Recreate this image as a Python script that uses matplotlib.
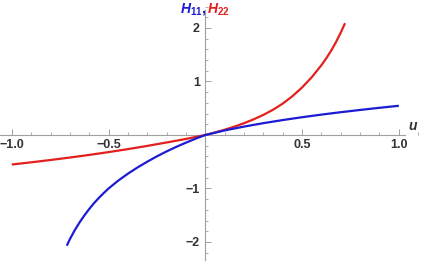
import numpy as np
import matplotlib
matplotlib.use("Agg")
import matplotlib.pyplot as plt
from matplotlib.ticker import MultipleLocator, FixedLocator

# H22 (red)
u_red = [-1.0, -0.9, -0.8, -0.7, -0.6, -0.5, -0.4, -0.3, -0.2, -0.1, 0.0,
         0.05, 0.1, 0.15, 0.2, 0.25, 0.3, 0.35, 0.4, 0.45, 0.5, 0.55,
         0.6, 0.625, 0.65, 0.675, 0.7, 0.722]
h22 = [-0.552, -0.511, -0.4675, -0.4215, -0.3725, -0.32, -0.264, -0.204, -0.14, -0.074, 0.0,
       0.047, 0.099, 0.156, 0.22, 0.293, 0.376, 0.472, 0.587, 0.725, 0.888, 1.08,
       1.305, 1.433, 1.575, 1.735, 1.915, 2.09]

# H11 (blue)
u_blue = [-0.716, -0.7, -0.675, -0.65, -0.625, -0.6, -0.575, -0.55, -0.525, -0.5,
          -0.45, -0.4, -0.35, -0.3, -0.25, -0.2, -0.15, -0.1, -0.05, 0.0,
          0.1, 0.2, 0.3, 0.4, 0.5, 0.6, 0.7, 0.8, 0.9, 1.0]
h11 = [-2.07, -1.948, -1.781, -1.635, -1.503, -1.383, -1.274, -1.175, -1.085, -1.0,
       -0.853, -0.723, -0.606, -0.499, -0.399, -0.307, -0.222, -0.143, -0.069, 0.0,
       0.085, 0.157, 0.221, 0.279, 0.332, 0.381, 0.426, 0.468, 0.508, 0.546]

xticks = [-1.0, -0.5, 0.5, 1.0]
xtick_labels = ["\u22121.0", "\u22120.5", "0.5", "1.0"]
yticks = [-2, -1, 1, 2]
ytick_labels = ["\u22122", "\u22121", "1", "2"]

blue = "#1c1cd2"
red = "#e3201d"
axis_col = "#a0a0a0"
text_col = "#333333"

plt.rcParams["font.family"] = ["Liberation Sans", "DejaVu Sans"]
plt.rcParams["mathtext.fontset"] = "custom"
plt.rcParams["mathtext.it"] = "Liberation Sans:italic:bold"
plt.rcParams["mathtext.rm"] = "Liberation Sans:bold"

fig = plt.figure(figsize=(4.24, 2.62), dpi=100)
ax = fig.add_axes([0, 0, 1, 1])
ax.set_xlim(-1.061, 1.130)
ax.set_ylim(-2.374, 2.523)

ax.plot(u_red, h22, color=red, lw=1.6, solid_capstyle="butt", zorder=3)
ax.plot(u_blue, h11, color=blue, lw=1.6, solid_capstyle="butt", zorder=3)

# axes through the origin, Mathematica look
for side in ("top", "right"):
    ax.spines[side].set_visible(False)
ax.spines["bottom"].set_position(("data", 0))
ax.spines["left"].set_position(("data", 0))
ax.spines["bottom"].set_bounds(-1.061, 1.03)
ax.spines["left"].set_bounds(-2.34, 2.33)
for side in ("bottom", "left"):
    ax.spines[side].set_color(axis_col)
    ax.spines[side].set_linewidth(0.8)

ax.xaxis.set_major_locator(FixedLocator(xticks))
ax.xaxis.set_minor_locator(MultipleLocator(0.1))
ax.yaxis.set_major_locator(FixedLocator(yticks))
ax.yaxis.set_minor_locator(MultipleLocator(0.2))

ax.tick_params(axis="both", which="major", direction="in", length=4, width=0.7,
               color=axis_col, labelsize=9, labelcolor=text_col)
ax.tick_params(axis="both", which="minor", direction="in", length=2.2, width=0.6,
               color=axis_col)
ax.tick_params(axis="x", pad=3)
ax.tick_params(axis="y", pad=4)
ax.set_xticklabels(xtick_labels, fontweight="bold")
ax.set_yticklabels(ytick_labels, fontweight="bold")

# axis labels
ax.text(1.05, 0.04, "u", fontsize=10, fontstyle="italic", fontweight="bold",
        color=text_col, ha="left", va="bottom")
ax.annotate(r"$H_{11}$,", xy=(0, 1), xycoords=("data", "axes fraction"),
            xytext=(1, -1), textcoords="offset points",
            ha="right", va="top", color=blue, fontsize=10, fontweight="bold")
ax.annotate(r"$H_{22}$", xy=(0, 1), xycoords=("data", "axes fraction"),
            xytext=(1, -1), textcoords="offset points",
            ha="left", va="top", color=red, fontsize=10)

fig.savefig("out.png", dpi=100)
